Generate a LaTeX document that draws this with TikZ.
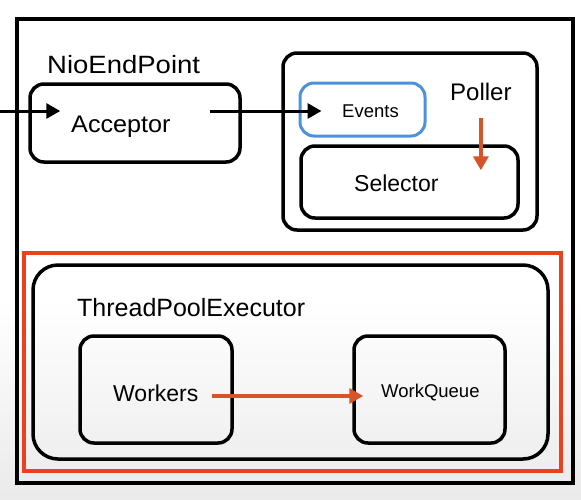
\documentclass[tikz,border=0pt]{standalone}
\usepackage{fontspec}
\setmainfont{Liberation Sans}
\usetikzlibrary{positioning,arrows.meta}

\definecolor{pollblue}{RGB}{74,146,222}
\definecolor{hiorange}{RGB}{214,84,40}
\definecolor{hired}{RGB}{232,66,32}

\begin{document}
\begin{tikzpicture}[x=1pt,y=-1pt,
    box/.style={draw,line width=3.5pt,rounded corners=14pt,inner sep=0pt},
    lbl/.style={anchor=base west,inner sep=0pt,font=\fontsize{23}{23}\selectfont},
    small/.style={anchor=base west,inner sep=0pt,font=\fontsize{18.5}{18.5}\selectfont},
    blackarrow/.style={line width=3pt,-{Triangle[length=14pt,width=15pt]}},
    orangearrow/.style={hiorange,line width=4pt,-{Triangle[length=14pt,width=15pt]}}]

  % Background and frames
  \useasboundingbox (0,0) rectangle (581,499);
  \fill[white] (0,0) rectangle (581,499);
  \shade[top color=white,bottom color=black!8] (0,300) rectangle (581,499);
  \draw[line width=4pt] (17,19) rectangle (573,483);
  \draw[hired,line width=4pt] (24,253) rectangle (561,471);

  % NioEndPoint part
  \node[lbl,font=\fontsize{25}{25}\selectfont] (nio) at (47,73) {\scalebox{1.1}[1]{NioEndPoint}};
  \node[box,minimum width=210pt,minimum height=78pt] (acceptorbox) at (135,123) {};
  \node[lbl,font=\fontsize{24}{24}\selectfont] (acceptor) at (71,132) {\scalebox{1.05}[1]{Acceptor}};
  \coordinate (incoming) at (0,111);

  % Poller part
  \node[box,minimum width=254pt,minimum height=177pt] (pollerbox) at (410,141.5) {};
  \node[box,draw=pollblue,line width=3pt,minimum width=125pt,minimum height=53pt] (eventsbox) at (362.5,109.5) {};
  \node[small] (events) at (342,117) {Events};
  \node[lbl,font=\fontsize{24}{24}\selectfont] (poller) at (450,100) {Poller};
  \node[box,minimum width=217pt,minimum height=72pt] (selectorbox) at (409.5,182) {};
  \node[lbl] (selector) at (354,191) {Selector};

  % ThreadPoolExecutor part
  \node[box,rounded corners=25pt,minimum width=515pt,minimum height=194pt] (poolbox) at (290.5,362) {};
  \node[lbl,font=\fontsize{25}{25}\selectfont] (pool) at (77,316) {ThreadPoolExecutor};
  \node[box,minimum width=152pt,minimum height=107pt] (workersbox) at (156,389.5) {};
  \node[lbl] (workers) at (113,401) {Workers};
  \node[box,minimum width=151pt,minimum height=107pt] (queuebox) at (429.5,389.5) {};
  \node[small] (queue) at (381,397) {WorkQueue};

  % Arrows
  \draw[blackarrow] (incoming) -- (incoming -| acceptorbox.west) -- ++(32,0);
  \draw[blackarrow,shorten <=-32pt,shorten >=-23pt] (acceptorbox.east |- incoming) -- (eventsbox.west |- incoming);
  \draw[orangearrow,shorten <=18pt,shorten >=-26pt] (poller.south) -- (poller.south |- selectorbox.north);
  \draw[orangearrow,shorten <=-22pt,shorten >=-11pt] (workersbox.east |- 0,396) -- (queuebox.west |- 0,396);

\end{tikzpicture}
\end{document}
